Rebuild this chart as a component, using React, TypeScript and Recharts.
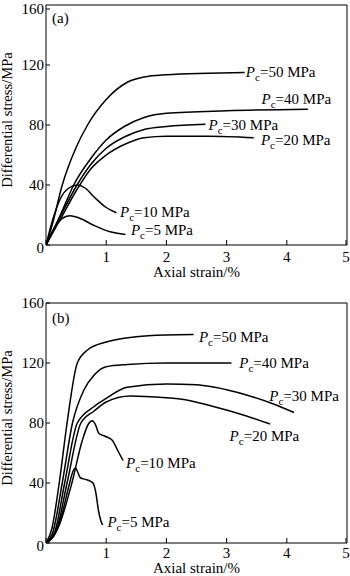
import React from "react";
import { LineChart, Line, XAxis, YAxis, ReferenceLine, ReferenceDot, Label } from "recharts";

// Panel (a): [axial strain %, differential stress MPa]
const a50: [number, number][] = [[0,0],[0.1,13],[0.27,40],[0.5,65],[0.69,80],[1,97],[1.35,108.5],[1.63,112],[2,113.5],[2.7,114.5],[3.3,115]];
const a40: [number, number][] = [[0,0],[0.25,21],[0.46,40],[0.75,58],[1,70],[1.3,79],[1.63,85],[2,87.8],[3,89.5],[4.35,90.5]];
const a30: [number, number][] = [[0,0],[0.25,20],[0.5,39],[0.75,54],[1,64.5],[1.3,72],[1.63,77],[2,79],[2.65,80.5]];
const a20: [number, number][] = [[0,0],[0.25,18],[0.5,36],[0.75,51],[1,60],[1.3,67],[1.63,71.5],[2,72.5],[2.7,72.5],[3.45,71.5]];
const a10: [number, number][] = [[0,0],[0.12,18],[0.24,31],[0.38,38],[0.52,40],[0.65,38],[0.8,32],[1,25],[1.17,21.5]];
const a5: [number, number][] = [[0,0],[0.15,12],[0.28,18],[0.4,19.5],[0.55,18],[0.8,13],[1.05,9],[1.32,7]];

// Panel (b)
const b50: [number, number][] = [[0,0],[0.1,10],[0.22,40],[0.35,80],[0.52,120],[0.69,128.7],[1,134],[1.5,137.5],[2,138.7],[2.45,139]];
const b40: [number, number][] = [[0,0],[0.12,8],[0.27,40],[0.44,80],[0.63,102],[0.8,112],[1,117.5],[1.35,119],[2,120],[3.08,120]];
const b30: [number, number][] = [[0,0],[0.15,8],[0.31,40],[0.52,80],[0.8,91],[1,96.4],[1.35,103.8],[2,106],[2.5,105.5],[2.78,104],[3.33,98.7],[3.78,92.7],[4.12,87]];
const b20: [number, number][] = [[0,0],[0.17,8],[0.35,40],[0.58,80],[0.8,88],[1,94],[1.4,98],[2,96.8],[2.23,96],[2.78,91],[3.33,84.7],[3.72,79.3]];
const b10: [number, number][] = [[0,0],[0.2,10],[0.43,40],[0.6,68],[0.7,79],[0.77,81.5],[0.82,79],[0.88,73],[0.99,71],[1.1,68.5],[1.2,61],[1.28,55]];
const b5: [number, number][] = [[0,0],[0.15,6],[0.27,20],[0.38,38],[0.45,48],[0.49,50],[0.52,48],[0.57,43.5],[0.69,42],[0.78,40],[0.83,33],[0.87,22],[0.91,15],[0.94,12]];

// Curve labels: [strain, stress, confining pressure]
const labelsA: [number, number, string][] = [[3.32,112,"50"],[3.58,94,"40"],[2.7,77,"30"],[3.57,67,"20"],[1.23,19,"10"],[1.41,7,"5"]];
const labelsB: [number, number, string][] = [[2.54,134,"50"],[3.21,117,"40"],[3.71,95,"30"],[3.05,68,"20"],[1.33,50,"10"],[1.02,11,"5"]];

const xTicks = [0, 1, 2, 3, 4, 5];
const yTicks = [0, 40, 80, 120, 160];
const FONT = "'Liberation Serif', 'Times New Roman', serif";
const FS = 15;

const toRows = (arr: [number, number][]) => arr.map(([x, y]) => ({ x, y }));

const XTick = (gap: number) => (props: any) => {
  const { x, y, payload } = props;
  return (
    <g>
      <line x1={x} y1={y} x2={x} y2={y - 5} stroke="#000" strokeWidth={1} />
      {payload.value !== 0 && (
        <text x={x} y={y + gap} textAnchor="middle" fontSize={FS} fontFamily={FONT} fill="#000">
          {payload.value}
        </text>
      )}
    </g>
  );
};

const YTick = (props: any) => {
  const { x, y, payload } = props;
  return (
    <g>
      <line x1={x} y1={y} x2={x + 4} y2={y} stroke="#000" strokeWidth={1} />
      <text x={x - 2} y={y + (payload.value === 0 ? 3 : 0)} dy={5} textAnchor="end" fontSize={FS} fontFamily={FONT} fill="#000">
        {payload.value}
      </text>
    </g>
  );
};

const CurveLabel = (text: string) => (props: any) => {
  const { cx, cy } = props;
  return (
    <text x={cx} y={cy} fontSize={FS} fontFamily={FONT} fill="#000">
      <tspan fontStyle="italic">P</tspan>
      <tspan fontSize={11} dy={4}>c</tspan>
      <tspan dy={-4}>{`=${text} MPa`}</tspan>
    </text>
  );
};

const PanelTag = (text: string) => (props: any) => {
  const { cx, cy } = props;
  return (
    <text x={cx} y={cy} fontSize={FS} fontFamily={FONT} fill="#000">
      {text}
    </text>
  );
};

const YTitle = (props: any) => {
  const vb = props.viewBox || { x: 0, y: 0, width: 46, height: 240 };
  const cx = vb.x + 7;
  const cy = vb.y + vb.height / 2 - 5;
  return (
    <text x={cx} y={cy} transform={`rotate(-90 ${cx} ${cy})`} textAnchor="middle" dominantBaseline="central" fontSize={14.6} fontFamily={FONT} fill="#000">
      Differential stress/MPa
    </text>
  );
};

const XTitle = (offset: number) => (props: any) => {
  const vb = props.viewBox || { x: 46, y: 245, width: 301, height: 45 };
  return (
    <text x={vb.x + vb.width / 2} y={vb.y + offset} textAnchor="middle" dominantBaseline="central" fontSize={FS} fontFamily={FONT} fill="#000">
      Axial strain/%
    </text>
  );
};

type PanelProps = {
  series: [number, number][][];
  labels: [number, number, string][];
  tag: string;
  tagPos: [number, number];
  height: number;
  top: number;
  xAxisHeight: number;
  xTitleOffset: number;
  tickGap: number;
};

const Panel = ({ series, labels, tag, tagPos, height, top, xAxisHeight, xTitleOffset, tickGap }: PanelProps) => (
  <LineChart width={350} height={height} margin={{ top, right: 3, bottom: 0, left: 0 }}>
    <XAxis
      type="number"
      dataKey="x"
      domain={[0, 5]}
      ticks={xTicks}
      allowDataOverflow
      height={xAxisHeight}
      tickSize={0}
      tickMargin={0}
      tickLine={false}
      axisLine={{ stroke: "#000", strokeWidth: 1 }}
      tick={XTick(tickGap)}
    >
      <Label content={XTitle(xTitleOffset)} />
    </XAxis>
    <YAxis
      type="number"
      domain={[0, 160]}
      ticks={yTicks}
      allowDataOverflow
      width={46}
      tickSize={0}
      tickMargin={0}
      tickLine={false}
      axisLine={{ stroke: "#000", strokeWidth: 1 }}
      tick={YTick}
    >
      <Label content={YTitle} />
    </YAxis>
    <ReferenceLine y={160} stroke="#000" strokeWidth={1} />
    <ReferenceLine x={5} stroke="#000" strokeWidth={1} />
    {series.map((s, i) => (
      <Line
        key={i}
        name={`s${i}`}
        data={toRows(s)}
        dataKey="y"
        type="monotone"
        dot={false}
        activeDot={false}
        stroke="#000"
        strokeWidth={1.5}
        isAnimationActive={false}
      />
    ))}
    {labels.map(([x, y, t], i) => (
      <ReferenceDot key={`l${i}`} x={x} y={y} r={0} shape={CurveLabel(t)} />
    ))}
    <ReferenceDot x={tagPos[0]} y={tagPos[1]} r={0} shape={PanelTag(tag)} />
  </LineChart>
);

export default function App() {
  return (
    <div style={{ position: "absolute", left: 0, top: 0, width: 350, height: 576, background: "#fff" }}>
      <Panel
        series={[a50, a40, a30, a20, a10, a5]}
        labels={labelsA}
        tag="(a)"
        tagPos={[0.1, 148]}
        height={290}
        top={5}
        xAxisHeight={45}
        xTitleOffset={27}
        tickGap={17}
      />
      <Panel
        series={[b50, b40, b30, b20, b10, b5]}
        labels={labelsB}
        tag="(b)"
        tagPos={[0.1, 147]}
        height={286}
        top={13}
        xAxisHeight={33}
        xTitleOffset={25}
        tickGap={15}
      />
    </div>
  );
}
